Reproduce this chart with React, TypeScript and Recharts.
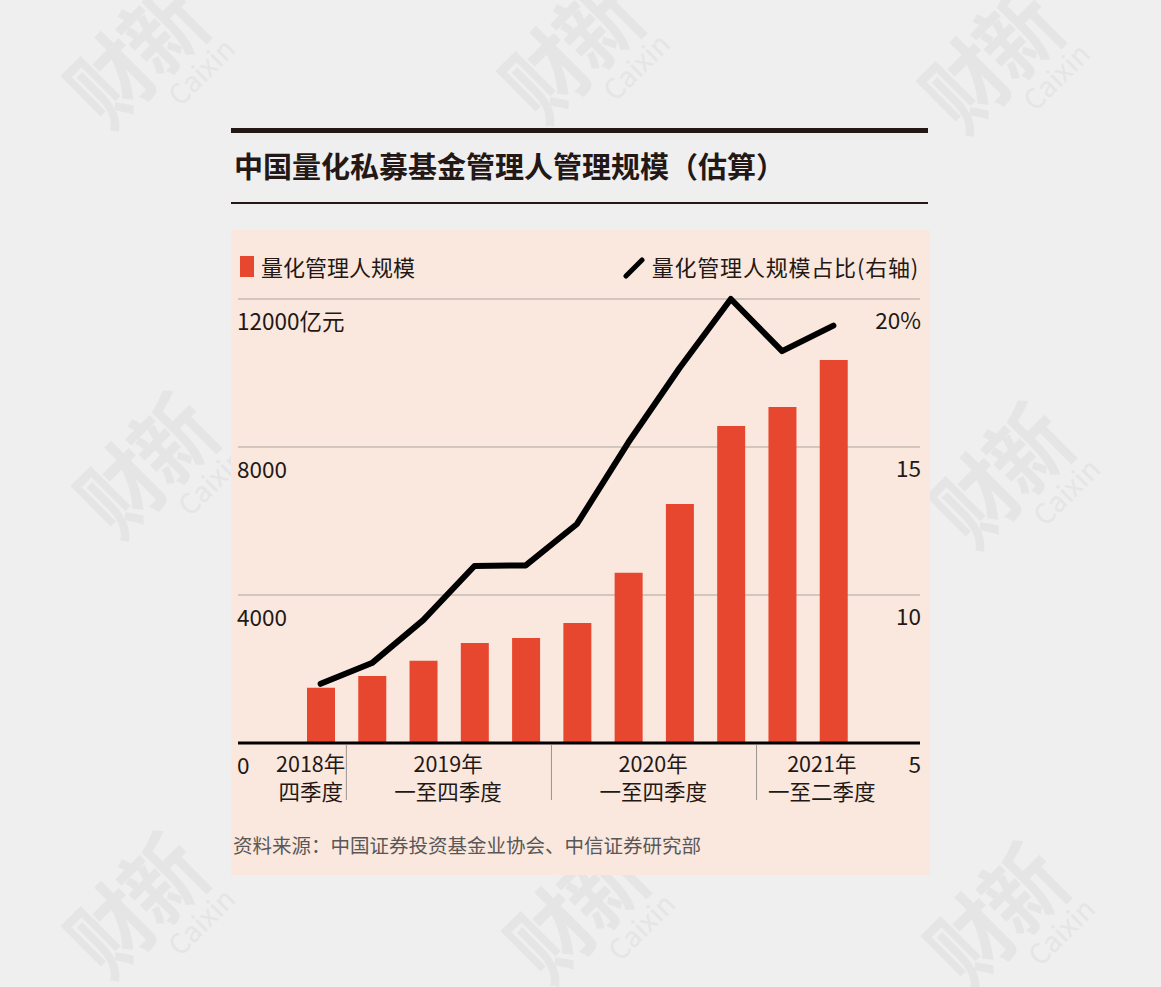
import React from "react";
import { ComposedChart, Bar, Line, XAxis, YAxis, CartesianGrid } from "recharts";

const quarters = ["2018Q4", "2019Q1", "2019Q2", "2019Q3", "2019Q4", "2020Q1", "2020Q2", "2020Q3", "2020Q4", "2021Q1", "2021Q2"];
const quantScale = [1490, 1810, 2220, 2700, 2840, 3240, 4600, 6460, 8570, 9080, 10350];
const quantShare = [7.0, 7.7, 9.15, 10.98, 11.0, 12.4, 15.15, 17.67, 20.0, 18.24, 19.1];

const leftTicks = [0, 4000, 8000, 12000];
const leftTickLabels = ["0", "4000", "8000", "12000亿元"];
const rightTicks = [5, 10, 15, 20];
const rightTickLabels = ["5", "10", "15", "20%"];

const groupYears = ["2018年", "2019年", "2020年", "2021年"];
const groupPeriods = ["四季度", "一至四季度", "一至四季度", "一至二季度"];
const groupFirst = [0, 1, 5, 9];
const groupLast = [0, 4, 8, 10];

const title = "中国量化私募基金管理人管理规模（估算）";
const legendBar = "量化管理人规模";
const legendLine = "量化管理人规模占比(右轴)";
const sourceText = "资料来源：中国证券投资基金业协会、中信证券研究部";

const data = quarters.map((q, i) => ({ q, scale: quantScale[i], share: quantShare[i] }));

const FONT = "'Noto Sans CJK SC', 'Noto Sans', sans-serif";
const TEXT = "#231815";
const BAR = "#e8472f";
const PANEL = "#fae8de";
const BG = "#efefef";

const CH_W = 699;
const CH_H = 645;
const M = { top: 69, right: 9, left: 6, bottom: 62 };
const PAD_L = 57;
const PAD_R = 61;
const STEP = (CH_W - M.left - M.right - PAD_L - PAD_R) / quarters.length;
const AXIS_Y = CH_H - M.bottom - 70;
const groupDx = [-10, -1, -1, 14];

const LeftTick = (props: any) => {
  const { y, payload } = props;
  const idx = leftTicks.indexOf(payload.value);
  return (
    <text x={M.left} y={y + 21} textAnchor="start" dominantBaseline="central" fontSize={22.5} fill={TEXT} fontFamily={FONT}>
      {leftTickLabels[idx]}
    </text>
  );
};

const RightTick = (props: any) => {
  const { y, payload } = props;
  const idx = rightTicks.indexOf(payload.value);
  return (
    <text x={CH_W - M.right} y={y + 20} textAnchor="end" dominantBaseline="central" fontSize={22.5} fill={TEXT} fontFamily={FONT}>
      {rightTickLabels[idx]}
    </text>
  );
};

const XTick = (props: any) => {
  const { x, index } = props;
  const g = groupFirst.indexOf(index);
  const l = groupLast.indexOf(index);
  const els: any[] = [];
  if (g >= 0) {
    const cx = x + ((groupLast[g] - groupFirst[g]) * STEP) / 2 + groupDx[g];
    els.push(
      <text key="y" x={cx} y={AXIS_Y + 19} textAnchor="middle" dominantBaseline="central" fontSize={21.5} fill={TEXT} fontFamily={FONT}>
        {groupYears[g]}
      </text>
    );
    els.push(
      <text key="p" x={cx} y={AXIS_Y + 47} textAnchor="middle" dominantBaseline="central" fontSize={21.5} fill={TEXT} fontFamily={FONT}>
        {groupPeriods[g]}
      </text>
    );
  }
  if (l >= 0 && index < quarters.length - 1) {
    els.push(
      <line key="s" x1={x + STEP / 2} x2={x + STEP / 2} y1={AXIS_Y + 2} y2={AXIS_Y + 57} stroke="#9a9592" strokeWidth={1} />
    );
  }
  return <g>{els}</g>;
};

const marks = [
  [150, 70], [585, 65], [1005, 75],
  [160, 480], [1015, 490],
  [150, 920], [590, 925], [1010, 930],
];

const Watermark = ({ cx, cy }: { cx: number; cy: number }) => (
  <div
    style={{
      position: "absolute",
      left: cx - 120,
      top: cy - 70,
      width: 240,
      height: 140,
      transform: "rotate(-45deg)",
      textAlign: "center",
      color: "#e5e5e5",
      fontFamily: FONT,
      lineHeight: 1,
      pointerEvents: "none",
    }}
  >
    <div style={{ fontSize: 90, fontWeight: 700, letterSpacing: -4, transform: "scaleX(0.85)" }}>财新</div>
    <div style={{ fontSize: 28, marginTop: 2, marginLeft: 70 }}>Caixin</div>
  </div>
);

export default function App() {
  return (
    <div style={{ position: "absolute", left: 0, top: 0, width: 1161, height: 987, background: BG, overflow: "hidden", fontFamily: FONT }}>
      {marks.map((m, i) => (
        <Watermark key={i} cx={m[0]} cy={m[1]} />
      ))}
      <div style={{ position: "absolute", left: 231, top: 128, width: 697, height: 5, background: TEXT }} />
      <div style={{ position: "absolute", left: 234, top: 144, fontSize: 29, fontWeight: 700, color: TEXT, lineHeight: "42px", whiteSpace: "nowrap" }}>
        {title}
      </div>
      <div style={{ position: "absolute", left: 231, top: 202, width: 697, height: 1.5, background: TEXT }} />
      <div style={{ position: "absolute", left: 231, top: 230, width: CH_W, height: CH_H, background: PANEL }}>
        <div style={{ position: "absolute", left: 9, top: 26, width: 14, height: 21, background: BAR }} />
        <div style={{ position: "absolute", left: 30, top: 20, fontSize: 22, color: TEXT, lineHeight: "32px", whiteSpace: "nowrap" }}>{legendBar}</div>
        <svg style={{ position: "absolute", left: 392, top: 27 }} width={22} height={22}>
          <line x1={3} y1={19} x2={19} y2={3} stroke="#000" strokeWidth={5} strokeLinecap="round" />
        </svg>
        <div style={{ position: "absolute", right: 11, top: 20, fontSize: 22, letterSpacing: 0.8, color: TEXT, lineHeight: "32px", whiteSpace: "nowrap" }}>{legendLine}</div>
        <div style={{ position: "absolute", left: 0, top: 0 }}>
          <ComposedChart width={CH_W} height={CH_H} data={data} margin={M}>
            <CartesianGrid yAxisId="left" vertical={false} stroke="#aba39e" strokeWidth={1} />
            <XAxis
              dataKey="q"
              padding={{ left: PAD_L, right: PAD_R }}
              height={70}
              axisLine={{ stroke: "#000", strokeWidth: 3 }}
              tickLine={false}
              tick={<XTick />}
              interval={0}
            />
            <YAxis yAxisId="left" domain={[0, 12000]} ticks={leftTicks} width={1} interval={0} axisLine={false} tickLine={false} tick={<LeftTick />} />
            <YAxis yAxisId="right" orientation="right" domain={[5, 20]} ticks={rightTicks} width={1} interval={0} axisLine={false} tickLine={false} tick={<RightTick />} />
            <Bar yAxisId="left" dataKey="scale" fill={BAR} barSize={28} isAnimationActive={false} />
            <Line
              yAxisId="right"
              dataKey="share"
              stroke="#000"
              strokeWidth={6}
              dot={false}
              activeDot={false}
              type="linear"
              strokeLinecap="round"
              strokeLinejoin="round"
              isAnimationActive={false}
            />
          </ComposedChart>
        </div>
        <div style={{ position: "absolute", left: 2, top: 601, fontSize: 19.5, color: "#595757", lineHeight: "28px", whiteSpace: "nowrap" }}>{sourceText}</div>
      </div>
    </div>
  );
}
